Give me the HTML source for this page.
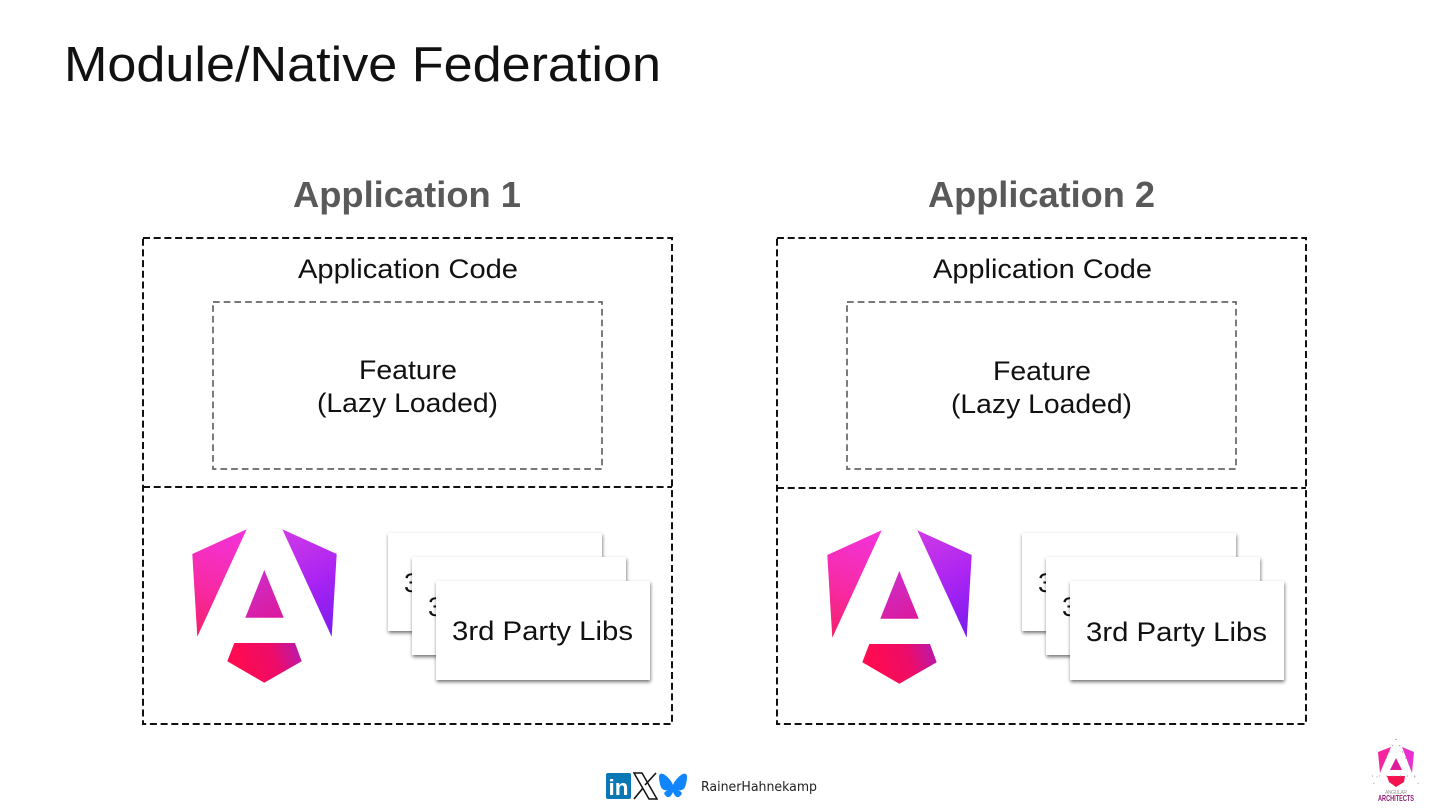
<!DOCTYPE html>
<html lang="en">
<head>
<meta charset="utf-8">
<title>Module/Native Federation</title>
<style>
html,body{margin:0;padding:0;background:#fff;width:1440px;height:810px;overflow:hidden}
svg{display:block}
text{font-family:"Liberation Sans",sans-serif;fill:#111}
.code{font-size:27px}
.head{font-size:36px;font-weight:700;fill:#595959}
.card{fill:#fff;filter:url(#sh)}
.o{fill:none;stroke:#111;stroke-width:2;stroke-dasharray:7 3.7}
.i{fill:none;stroke:#666;stroke-width:1.7;stroke-dasharray:6.7 4}
</style>
</head>
<body>
<svg xmlns="http://www.w3.org/2000/svg" width="1440" height="810" viewBox="0 0 1440 810">
<defs>
<filter id="sh" x="-10%" y="-15%" width="120%" height="130%"><feDropShadow dx="0.500" dy="2" stdDeviation="1.800" flood-color="#000" flood-opacity=".55"/></filter>
<linearGradient id="gl" gradientUnits="userSpaceOnUse" x1="235" y1="535" x2="195" y2="635"><stop offset="0" stop-color="#f332d6"/><stop offset=".55" stop-color="#f72aa5"/><stop offset="1" stop-color="#f5206a"/></linearGradient>
<linearGradient id="gr" gradientUnits="userSpaceOnUse" x1="285" y1="530" x2="335" y2="635"><stop offset="0" stop-color="#cf3ae6"/><stop offset=".5" stop-color="#aa24f2"/><stop offset="1" stop-color="#7a1bee"/></linearGradient>
<linearGradient id="gc" gradientUnits="userSpaceOnUse" x1="255" y1="575" x2="275" y2="620"><stop offset="0" stop-color="#cf2cc6"/><stop offset="1" stop-color="#db1a9d"/></linearGradient>
<linearGradient id="gb" gradientUnits="userSpaceOnUse" x1="240" y1="665" x2="300" y2="645"><stop offset="0" stop-color="#ff0b52"/><stop offset=".55" stop-color="#ec0c68"/><stop offset="1" stop-color="#b719ae"/></linearGradient>
<g id="ng">
<polygon points="192.3,554 246.7,529.3 197.3,636.7" fill="url(#gl)"/>
<polygon points="282.3,529.3 336.7,554 331.7,636.7" fill="url(#gr)"/>
<polygon points="264.3,570 245.3,617.7 283.7,617.7" fill="url(#gc)"/>
<polygon points="234.3,643 295,643 301.7,661.3 264.3,682.7 227.3,661.3" fill="url(#gb)"/>
</g>
</defs>
<rect width="1440" height="810" fill="#fff"/>

<text x="64" y="81" font-size="49" textLength="597" lengthAdjust="spacingAndGlyphs">Module/Native Federation</text>

<text class="head" x="293" y="207" textLength="228" lengthAdjust="spacingAndGlyphs">Application 1</text>
<rect class="o" x="143" y="238" width="529" height="486"/>
<line class="o" x1="143" y1="487" x2="672" y2="487"/>
<text class="code" x="298" y="278" textLength="220" lengthAdjust="spacingAndGlyphs">Application Code</text>
<rect class="i" x="213" y="302" width="389" height="167"/>
<text class="code" x="359" y="379" textLength="98" lengthAdjust="spacingAndGlyphs">Feature</text>
<text class="code" x="317" y="412" textLength="181" lengthAdjust="spacingAndGlyphs">(Lazy Loaded)</text>
<use href="#ng"/>
<rect class="card" x="388" y="533" width="214" height="98"/>
<text class="code" x="404" y="592">3</text>
<rect class="card" x="412" y="557" width="214" height="98"/>
<text class="code" x="428" y="616">3</text>
<rect class="card" x="436" y="581" width="214" height="99"/>
<text class="code" x="452" y="640" textLength="181" lengthAdjust="spacingAndGlyphs">3rd Party Libs</text>

<text class="head" x="928" y="207" textLength="227" lengthAdjust="spacingAndGlyphs">Application 2</text>
<rect class="o" x="777" y="238" width="529" height="486"/>
<line class="o" x1="777" y1="488" x2="1306" y2="488"/>
<text class="code" x="933" y="278" textLength="219" lengthAdjust="spacingAndGlyphs">Application Code</text>
<rect class="i" x="847" y="302" width="389" height="167"/>
<text class="code" x="993" y="380" textLength="98" lengthAdjust="spacingAndGlyphs">Feature</text>
<text class="code" x="951" y="413" textLength="181" lengthAdjust="spacingAndGlyphs">(Lazy Loaded)</text>
<g transform="translate(635 1)">
<use href="#ng"/>
</g>
<rect class="card" x="1022" y="533" width="214" height="98"/>
<text class="code" x="1038" y="592">3</text>
<rect class="card" x="1046" y="557" width="214" height="98"/>
<text class="code" x="1062" y="616">3</text>
<rect class="card" x="1070" y="581" width="214" height="99"/>
<text class="code" x="1086" y="641" textLength="181" lengthAdjust="spacingAndGlyphs">3rd Party Libs</text>

<rect x="606" y="773" width="25" height="26" rx="2" fill="#0a78b5"/>
<text x="608.500" y="795" font-size="22" font-weight="700" style="fill:#fff" textLength="20" lengthAdjust="spacingAndGlyphs">in</text>
<path d="M634 773 H642 L657 799 H649 Z" fill="#fff" stroke="#111" stroke-width="1.5"/>
<path d="M656 773 L645 785 M634 799 L643 788" fill="none" stroke="#111" stroke-width="1.6"/>
<path d="M665 775 C669 778 672 782 673 785 C674 782 677 778 681 775 C684 773 687 773 687 777 C687 780 686 785 685 787 C684 790 680 791 677 790 C681 791 683 793 681 795 C678 799 675 797 673 792 C671 797 668 799 665 795 C663 793 665 791 669 790 C666 791 662 790 661 787 C660 785 659 780 659 777 C659 773 662 773 665 775 Z" fill="#1185fe"/>
<text x="701" y="791" font-size="13" textLength="116" lengthAdjust="spacingAndGlyphs" style="font-family:'DejaVu Sans',sans-serif;fill:#222">RainerHahnekamp</text>

<polygon points="1378,752 1391,747 1380,773" fill="#f5259f"/>
<polygon points="1402,747 1414,752 1412,773" fill="#e82fd0"/>
<polygon points="1396,758 1390,770 1402,770" fill="#e0189a"/>
<polygon points="1387,776 1405,776 1404,782 1396,787 1389,782" fill="#f5124f"/>
<path d="M1396 739 L1372 787 M1396 739 L1420 787 M1372 776 H1420" fill="none" stroke="#999" stroke-width="1" stroke-dasharray="1 6"/>
<text x="1385" y="794" font-size="5" textLength="22" lengthAdjust="spacing" style="fill:#999">ANGULAR</text>
<text x="1378" y="801" font-size="8.500" font-weight="700" textLength="36" lengthAdjust="spacingAndGlyphs" style="fill:#8f1c73">ARCHITECTS</text>
</svg>
</body>
</html>
